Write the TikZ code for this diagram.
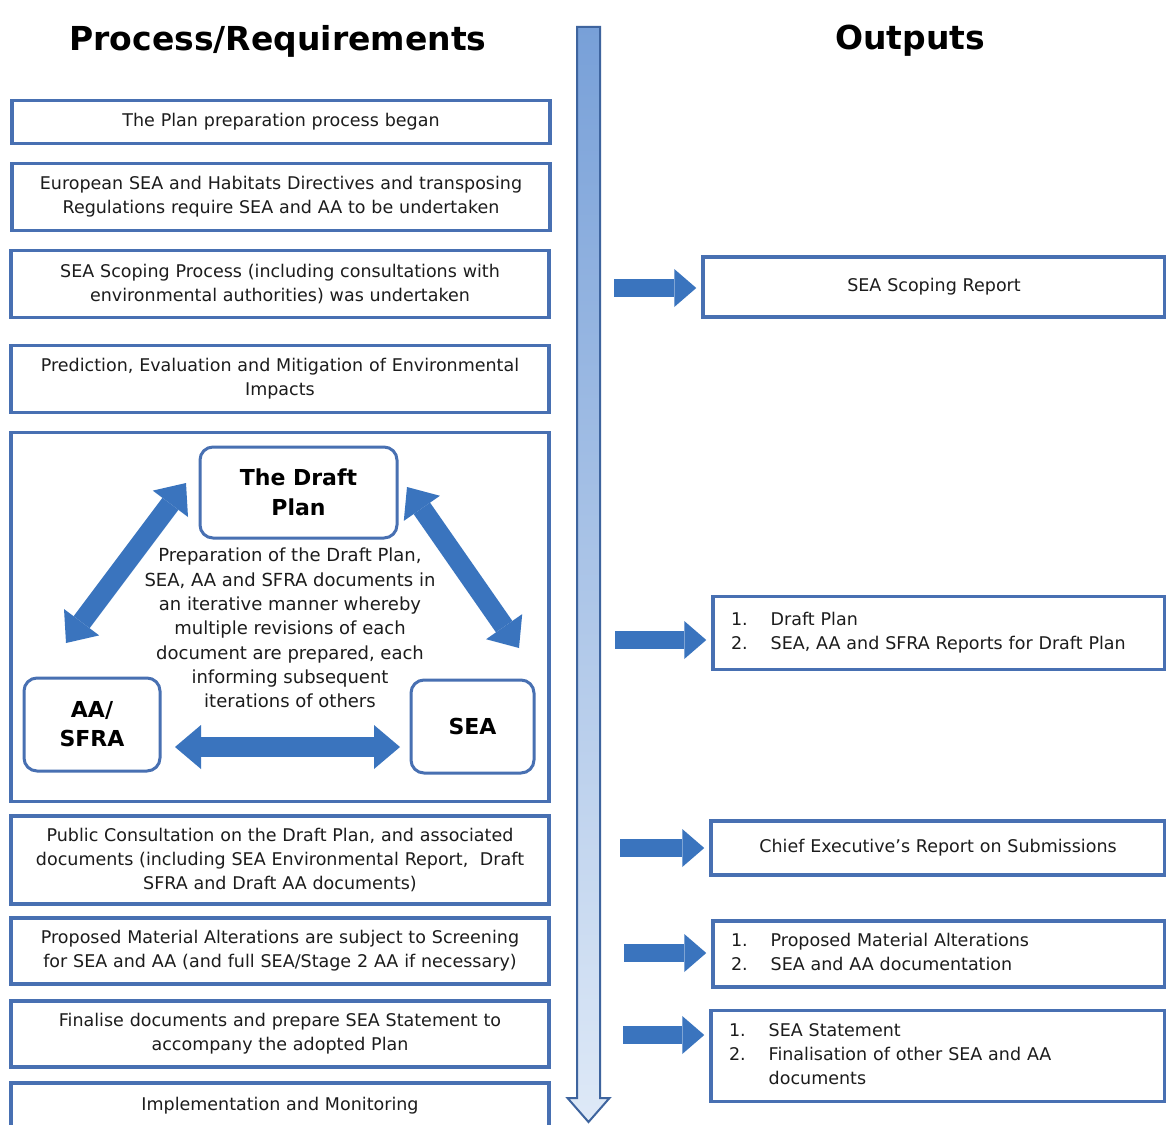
\documentclass[tikz,border=0pt]{standalone}
\usepackage{fontspec}
\setmainfont{DejaVu Sans}
\usetikzlibrary{arrows.meta}
\definecolor{boxblue}{RGB}{72,112,178}
\definecolor{arrowblue}{RGB}{58,116,190}
\definecolor{vborder}{RGB}{62,100,158}
\definecolor{txt}{RGB}{28,28,28}
\begin{document}
\begin{tikzpicture}[x=1pt,y=-1pt,
  bodyfont/.style={font=\fontsize{17.5}{24}\selectfont},
  lbox/.style={draw=boxblue, line width=3.5pt, fill=white, text=txt, bodyfont,
    minimum width=538pt, text width=522pt, inner xsep=8pt, inner ysep=0pt, align=center},
  rbox/.style={draw=boxblue, line width=3.5pt, fill=white, text=txt, bodyfont,
    inner xsep=18pt, inner ysep=0pt},
  ibox/.style={draw=boxblue, line width=3pt, rounded corners=13pt, fill=white, text=black,
    font=\fontsize{22}{29}\selectfont\bfseries, align=center, inner sep=0pt},
  title/.style={font=\fontsize{33}{40}\selectfont\bfseries, text=black},
  harrow/.style={draw=arrowblue, line width=18pt,
    -{Triangle[width=38pt,length=22pt,line width=0pt]}, shorten >=5pt},
  darrow/.style={draw=arrowblue, line width=20pt,
    {Triangle[width=44pt,length=26pt,line width=0pt]}-{Triangle[width=44pt,length=26pt,line width=0pt]}}
]
\useasboundingbox (0,0) rectangle (1166,1124);
\clip (0,0) rectangle (1166,1124);
\fill[white] (0,0) rectangle (1166,1124);

% titles
\node[title] (t1) at (278,41) {Process/Requirements};
\node[title] (t2) at (910,41) {Outputs};

% vertical timeline arrow
\path[draw=vborder, line width=2pt, line join=miter, top color={rgb,255:red,120;green,160;blue,216},
  bottom color={rgb,255:red,222;green,233;blue,247}]
  (577,27) -- (600,27) -- (600,1098) -- (609.5,1098) -- (588.5,1122) -- (567.5,1098) -- (577,1098) -- cycle;

% left column
\node[lbox, minimum height=43pt] (p1) at (281,122) {The Plan preparation process began};
\node[lbox, minimum height=67pt] (p2) at (281,197) {European SEA and Habitats Directives and transposing\\Regulations require SEA and AA to be undertaken};
\node[lbox, minimum height=67pt] (p3) at (280,284) {SEA Scoping Process (including consultations with\\environmental authorities) was undertaken};
\node[lbox, minimum height=67pt] (p4) at (280,379) {Prediction, Evaluation and Mitigation of Environmental\\Impacts};
\node[lbox, minimum height=369pt] (p5) at (280,617) {};
\node[lbox, minimum height=88pt] (p6) at (280,860) {Public Consultation on the Draft Plan, and associated\\documents (including SEA Environmental Report,~~Draft\\SFRA and Draft AA documents)};
\node[lbox, minimum height=66pt] (p7) at (280,951) {Proposed Material Alterations are subject to Screening\\for SEA and AA (and full SEA/Stage 2 AA if necessary)};
\node[lbox, minimum height=66pt] (p8) at (280,1034) {Finalise documents and prepare SEA Statement to\\accompany the adopted Plan};
\node[lbox, minimum height=46pt] (p9) at (280,1106) {Implementation and Monitoring};

% inner iterative diagram
\node[ibox, minimum width=197pt, minimum height=91pt] (draft) at (298.5,492.5) {The Draft\\[1pt]Plan};
\node[ibox, minimum width=136pt, minimum height=93pt] (aa) at (92,724.5) {AA/\\SFRA};
\node[ibox, minimum width=123pt, minimum height=93pt] (sea) at (472.5,726.5) {SEA};
\node[text=txt, align=center, font=\fontsize{18}{24.3}\selectfont, inner sep=0pt] (iter) at (290,628)
  {Preparation of the Draft Plan,\\SEA, AA and SFRA documents in\\an iterative manner whereby\\multiple revisions of each\\document are prepared, each\\informing subsequent\\iterations of others};

\coordinate (dl1) at (186,483);
\coordinate (dl2) at (66,643);
\coordinate (dr1) at (407,487);
\coordinate (dr2) at (519,648);
\coordinate (dh1) at (175,747);
\coordinate (dh2) at (400,747);
\draw[darrow] (dl1) -- (dl2);
\draw[darrow] (dr1) -- (dr2);
\draw[darrow] (dh1) -- (dh2);

% right column outputs
\node[rbox, minimum width=462pt, minimum height=60pt, text width=426pt, align=center] (r1) at (934,287) {SEA Scoping Report};
\node[rbox, minimum width=452pt, minimum height=73pt, text width=416pt, align=left] (r2) at (939,633)
  {\begin{tabular}{@{}l@{\hspace{23pt}}l@{}}1. & Draft Plan\\ 2. & SEA, AA and SFRA Reports for Draft Plan\end{tabular}};
\node[rbox, minimum width=454pt, minimum height=54pt, text width=418pt, align=center] (r3) at (938,848) {Chief Executive's Report on Submissions};
\node[rbox, minimum width=452pt, minimum height=66pt, text width=416pt, align=left] (r4) at (939,954)
  {\begin{tabular}{@{}l@{\hspace{23pt}}l@{}}1. & Proposed Material Alterations\\ 2. & SEA and AA documentation\end{tabular}};
\node[rbox, minimum width=454pt, minimum height=91pt, text width=418pt, align=left] (r5) at (938,1056)
  {\begin{tabular}{@{}l@{\hspace{23pt}}l@{}}1. & SEA Statement\\ 2. & Finalisation of other SEA and AA\\ & documents\end{tabular}};

% output arrows
\coordinate (s1) at (614,288);
\coordinate (s2) at (615,640);
\coordinate (s3) at (620,848);
\coordinate (s4) at (624,953);
\coordinate (s5) at (623,1035);
\draw[harrow] (s1) -- (s1 -| r1.west);
\draw[harrow] (s2) -- (s2 -| r2.west);
\draw[harrow] (s3) -- (s3 -| r3.west);
\draw[harrow] (s4) -- (s4 -| r4.west);
\draw[harrow] (s5) -- (s5 -| r5.west);
\end{tikzpicture}
\end{document}
